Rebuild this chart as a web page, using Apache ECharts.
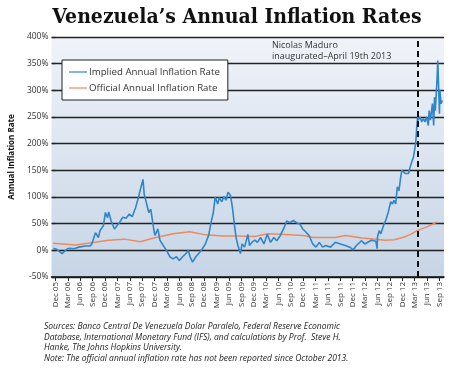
<!DOCTYPE html>
<html><head><meta charset="utf-8">
<script src="https://cdn.jsdelivr.net/npm/echarts@6/dist/echarts.min.js"></script>
<style>html,body{margin:0;padding:0;background:#fff}#c{width:450px;height:376px}</style>
</head><body><div id="c"></div>
<script>
// x positions are months since Dec 2005
const tickLabels = ['Dec 05','Mar 06','Jun 06','Sep 06','Dec 06','Mar 07','Jun 07','Sep 07','Dec 07','Mar 08','Jun 08','Sep 08','Dec 08','Mar 09','Jun 09','Sep 09','Dec 09','Mar 10','Jun 10','Sep 10','Dec 10','Mar 11','Jun 11','Sep 11','Dec 11','Mar 12','Jun 12','Sep 12','Dec 12','Mar 13','Jun 13','Sep 13'];
const yTicks = [-50,0,50,100,150,200,250,300,350,400];
const impliedMonth = [-0.5,-0.2,0.3,1.6,2.0,2.9,3.5,4.5,4.9,5.7,7.2,8.4,8.8,9.2,9.7,10.4,10.8,11.6,12.1,12.6,12.9,13.5,14.3,14.7,15.5,16.3,17.1,17.9,18.6,19.4,20.1,20.6,21.2,21.5,22.0,22.6,23.1,23.4,23.8,24.1,24.8,25.3,26.1,26.9,27.7,28.5,29.3,30.0,30.8,31.6,32.2,32.6,33.2,34.0,34.8,35.6,36.3,37.1,37.7,38.2,38.7,39.3,39.7,40.3,40.8,41.3,41.8,42.4,42.9,43.4,43.8,44.2,44.8,45.2,45.8,46.6,47.0,47.7,48.3,48.9,49.7,50.5,51.3,52.1,52.9,53.6,54.4,55.4,56.0,56.8,57.6,58.4,59.2,59.9,60.7,61.5,62.3,63.1,63.9,64.7,65.4,66.6,67.8,69.0,70.2,71.3,72.1,72.9,73.3,74.1,74.9,76.5,77.6,77.9,78.0,78.4,78.8,79.6,80.0,80.6,80.8,81.2,81.6,82.0,82.4,82.8,83.2,83.6,83.9,84.3,84.7,85.1,85.5,85.9,86.3,86.7,87.1,87.3,87.5,87.7,87.9,88.3,88.7,89.1,89.5,89.9,90.3,90.5,90.8,91.3,91.6,91.8,92.0,92.4,92.6,92.8,93.0,93.1,93.4,93.7];
const impliedRate = [4,5,2,-6,-3,3,4,3,5,6,8,8,12,10,33,24,37,46,71,61,72,55,40,38,52,62,60,68,63,80,99,115,133,105,90,71,77,75,40,28,40,19,9,0,-12,-16,-12,-19,-12,-6,0,-12,-22,-12,-5,3,12,28,53,69,100,87,99,91,101,94,109,103,78,44,22,9,-6,12,6,30,9,16,19,15,24,12,30,15,24,18,27,43,55,52,56,52,49,40,34,27,12,6,15,6,9,6,15,12,9,6,1,9,6,18,12,19,17,3,25,37,31,50,56,72,78,91,87,94,87,119,112,137,150,147,144,147,144,156,166,175,194,206,231,250,244,250,241,247,241,250,234,262,244,275,234,287,262,319,356,306,256,300,275,281];
const officialMonth = [-0.6,4.9,9.6,12.8,16.7,20.6,23.8,28.5,32.5,36.4,40.4,44.3,48.2,51.4,54.5,60.0,62.4,67.8,70.2,71.9,74.2,75.8,79.7,82.1,84.5,86.0,87.6,90.0,92.4];
const officialRate = [13.5,10,15,19,21,16,23,31,35,29,27,27,26,31,30,28,24,24,28,26,23,22,19,20,25,30,37,44,53];
const maduroMonth = 87.8;

const implied = impliedMonth.map((m,i)=>[m, impliedRate[i]]);
const official = officialMonth.map((m,i)=>[m, officialRate[i]]);
const tickValues = tickLabels.map((_,i)=>i*3);

const chart = echarts.init(document.getElementById('c'), null, {renderer:'canvas'});
const F = 'Open Sans';
chart.setOption({
  animation:false,
  title:{text:"Venezuela’s Annual Inflation Rates", left:232, top:2, textAlign:'center',
    textStyle:{fontFamily:'DejaVu Serif Condensed, DejaVu Serif', fontWeight:'bold', fontSize:21, color:'#111'}},
  grid:{left:42, right:6, top:37, bottom:99, show:true, borderWidth:0,
    backgroundColor:{type:'linear',x:0,y:0,x2:0,y2:1,colorStops:[{offset:0,color:'#f0f3f9'},{offset:1,color:'#c6d5e6'}]}},
  legend:{orient:'vertical', left:62, top:60, backgroundColor:'#fff', borderColor:'#222', borderWidth:1,
    padding:[6,8,6,7], itemGap:4, itemWidth:18, itemHeight:1.2, icon:'rect',
    textStyle:{fontFamily:F, fontSize:9.7, lineHeight:12, color:'#333', padding:[0,0,0,-3]},
    data:['Implied Annual Inflation Rate','Official Annual Inflation Rate']},
  xAxis:{type:'value', min:-0.95, max:94.1,
    axisLine:{show:true, onZero:false, lineStyle:{color:'#111', width:1.5}},
    axisTick:{show:true, length:4, customValues:tickValues, lineStyle:{color:'#222'}},
    axisLabel:{customValues:tickValues, rotate:90, margin:5, fontFamily:F, fontSize:8, color:'#333',
      formatter:v=>tickLabels[Math.round(v/3)]},
    splitLine:{show:false}},
  yAxis:{type:'value', min:-50, max:400, interval:50,
    name:'Annual Inflation Rate', nameLocation:'middle', nameRotate:90, nameGap:34,
    nameTextStyle:{fontFamily:F, fontWeight:'bold', fontSize:8, color:'#111'},
    axisLine:{show:false}, axisTick:{show:true, length:3, lineStyle:{color:'#222', width:1.3}},
    axisLabel:{margin:3, fontFamily:F, fontSize:8.5, color:'#333', formatter:v=>v+'%'},
    splitLine:{show:true, lineStyle:{color:'#222', width:1.3}}},
  series:[
    {name:'Implied Annual Inflation Rate', type:'line', data:implied, symbol:'none',
      lineStyle:{color:'#2f86c9', width:1.6}, itemStyle:{color:'#2f86c9'}, z:3,
      markLine:{silent:true, symbol:['none','none'], label:{show:false}, animation:false,
        lineStyle:{color:'#111', width:2, type:[6,4]},
        data:[{xAxis:maduroMonth}]}},
    {name:'Official Annual Inflation Rate', type:'line', data:official, symbol:'none',
      lineStyle:{color:'#ee8a5e', width:1.5}, itemStyle:{color:'#ee8a5e'}, z:2}
  ],
  graphic:[
    {type:'text', left:272, top:40, style:{text:'Nicolas Maduro\ninaugurated–April 19th 2013', fontFamily:F, fontSize:9, lineHeight:11, fill:'#333'}},
    {type:'text', left:44, top:321, style:{text:'Sources: Banco Central De Venezuela Dolar Paralelo, Federal Reserve Economic\nDatabase, International Monetary Fund (IFS), and calculations by Prof.  Steve H.\nHanke, The Johns Hopkins University.\nNote: The official annual inflation rate has not been reported since October 2013.',
      fontFamily:F, fontStyle:'italic', fontSize:8.5, lineHeight:10.8, fill:'#222'}}
  ]
});
</script></body></html>
